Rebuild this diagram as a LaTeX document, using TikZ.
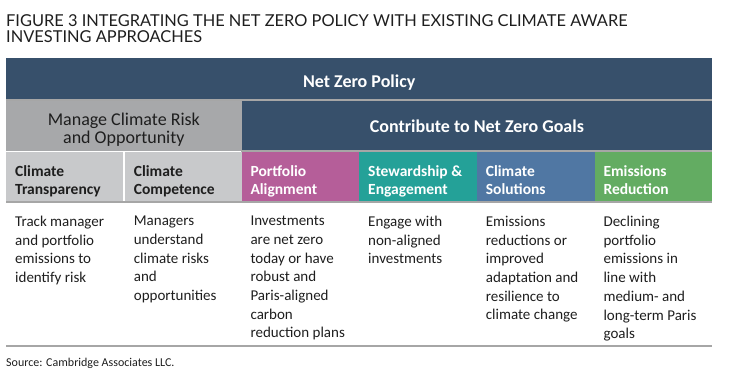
\documentclass[tikz,border=0pt]{standalone}
\usepackage{fontspec}
\setmainfont{Carlito}
\newfontfamily\titlefont{Lato}
\usepackage{tikz}

\definecolor{nzNavy}{HTML}{37506B}
\definecolor{nzGrayMid}{HTML}{A7A8AA}
\definecolor{nzGrayLight}{HTML}{C8C9CB}
\definecolor{nzRule}{HTML}{A6A6A6}
\definecolor{nzMagenta}{HTML}{B55E99}
\definecolor{nzTeal}{HTML}{24A198}
\definecolor{nzBlue}{HTML}{5077A3}
\definecolor{nzGreen}{HTML}{63AC62}
\definecolor{nzText}{HTML}{1E1E1E}

\begin{document}
\begin{tikzpicture}[
		x=1pt, y=-1pt,
		band/.style={
			anchor=north west, inner sep=0pt, fill=nzNavy, text=white,
			font=\fontsize{18}{18.7}\selectfont\bfseries
		},
		cell/.style={
			anchor=north west, inner sep=0pt,
			minimum width=117.67pt, minimum height=49pt
		},
		headtxt/.style={
			anchor=north west, inner sep=0pt, align=left,
			font=\fontsize{15.5}{18}\selectfont\bfseries
		},
		bodytxt/.style={
			anchor=north west, inner sep=0pt, align=left, text=nzText,
			font=\fontsize{15}{18.7}\selectfont
		},
		sepline/.style={fill=nzRule}
		]
		
		\useasboundingbox (0,0) rectangle (744,389);
		
		% title
		\node[anchor=base west, inner sep=0pt, text=nzText,
		font=\titlefont\fontsize{16.4}{17}\selectfont] (title1) at (6,26.7)
		{FIGURE 3 INTEGRATING THE NET ZERO POLICY WITH EXISTING CLIMATE AWARE};
		\node[anchor=base west, inner sep=0pt, text=nzText,
		font=\titlefont\fontsize{16.4}{17}\selectfont] (title2) at (6,42.7)
		{INVESTING APPROACHES};
		
		% top bands
		\node[band, minimum width=706pt, minimum height=41pt,
		text height=17.6pt, text depth=0pt] (policy) at (6,58)
		{Net Zero Policy};
		\node[band, fill=nzGrayMid, minimum width=235.33pt, minimum height=52pt]
		(manage) at (6,99) {};
		\node[inner sep=0pt, align=center, text=nzText,
		font=\fontsize{18}{18.7}\selectfont] (managetxt)
		at ([yshift=-4.5pt]manage.center) {Manage Climate Risk\\and Opportunity};
		\node[band, minimum width=470.67pt, minimum height=49pt,
		text height=13.6pt, text depth=0pt] (goals) at (241.33,101)
		{Contribute to Net Zero Goals};
		
		% header cells
		\node[cell, fill=nzGrayLight, minimum width=116.67pt] (h1) at (6,152) {};
		\node[cell, fill=nzGrayLight, minimum width=116.67pt] (h2) at (124.67,152) {};
		\node[cell, fill=nzMagenta] (h3) at (241.33,152) {};
		\node[cell, fill=nzTeal] (h4) at (359,152) {};
		\node[cell, fill=nzBlue] (h5) at (476.67,152) {};
		\node[cell, fill=nzGreen] (h6) at (594.33,152) {};
		
		\node[headtxt, text=nzText] (ht1) at ([xshift=9pt, yshift=-13pt]h1.north west)
		{Climate\\Transparency};
		\node[headtxt, text=nzText] (ht2) at ([xshift=9pt, yshift=-13pt]h2.north west)
		{Climate\\Competence};
		\node[headtxt, text=white] (ht3) at ([xshift=9pt, yshift=-13pt]h3.north west)
		{Portfolio\\Alignment};
		\node[headtxt, text=white] (ht4) at ([xshift=9pt, yshift=-13pt]h4.north west)
		{Stewardship \&\\Engagement};
		\node[headtxt, text=white] (ht5) at ([xshift=9pt, yshift=-13pt]h5.north west)
		{Climate\\Solutions};
		\node[headtxt, text=white] (ht6) at ([xshift=9pt, yshift=-13pt]h6.north west)
		{Emissions\\Reduction};
		
		% body texts
		\node[bodytxt] (b1) at ([xshift=9pt, yshift=-14.5pt]h1.south west)
		{Track manager\\and portfolio\\emissions to\\identify risk};
		\node[bodytxt] (b2) at ([xshift=9pt, yshift=-14.5pt]h2.south west)
		{Managers\\understand\\climate risks\\and\\opportunities};
		\node[bodytxt] (b3) at ([xshift=9pt, yshift=-14.5pt]h3.south west)
		{Investments\\are net zero\\today or have\\robust and\\Paris-aligned\\carbon\\reduction plans};
		\node[bodytxt] (b4) at ([xshift=9pt, yshift=-14.5pt]h4.south west)
		{Engage with\\non-aligned\\investments};
		\node[bodytxt] (b5) at ([xshift=9pt, yshift=-14.5pt]h5.south west)
		{Emissions\\reductions or\\improved\\adaptation and\\resilience to\\climate change};
		\node[bodytxt] (b6) at ([xshift=9pt, yshift=-14.5pt]h6.south west)
		{Declining\\portfolio\\emissions in\\line with\\medium- and\\long-term Paris\\goals};
		
		% separator lines
		\coordinate (endl) at (6,344.7);
		\coordinate (endr) at (712,346.7);
		\path[sepline] (policy.south west) rectangle ([yshift=-2pt]policy.south east);
		\path[sepline] (goals.south west) rectangle ([yshift=-2pt]goals.south east);
		\path[sepline] (h1.south west) rectangle ([yshift=-2pt]h6.south east);
		\path[sepline] (endl) rectangle (endr);
		
		\node[anchor=west, inner sep=0pt, text=nzText,
		font=\fontsize{12}{14}\selectfont] (source) at (6,363)
		{Source: Cambridge Associates LLC.};
		
	\end{tikzpicture}
\end{document}
